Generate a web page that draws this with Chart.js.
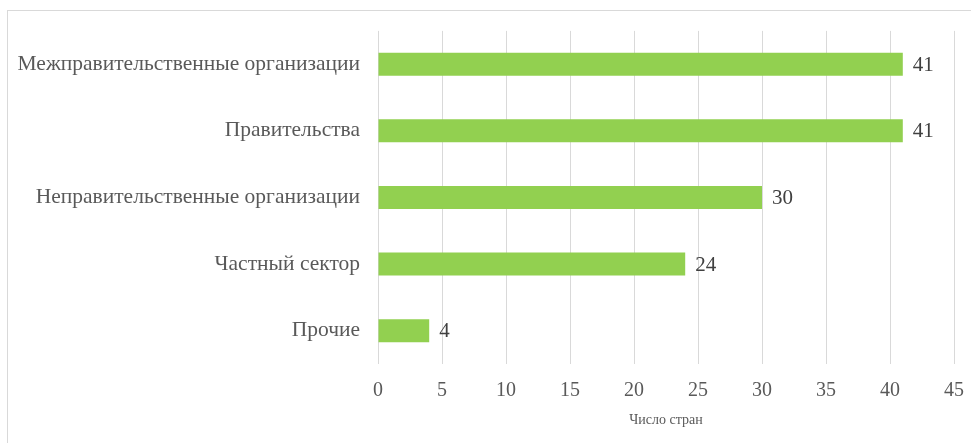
<!DOCTYPE html>
<html><head><meta charset="utf-8">
<script src="https://cdn.jsdelivr.net/npm/chart.js@4"></script>
<style>
html,body{margin:0;padding:0;background:#fff;overflow:hidden}
#frame{position:absolute;left:7px;top:10px;width:990px;height:460px;border:1px solid #d9d9d9;box-sizing:border-box}
#wrap{position:absolute;left:0;top:0;width:971px;height:443px}
</style></head>
<body>
<div id="frame"></div>
<div id="wrap"><canvas id="c" width="971" height="443"></canvas></div>
<script>
const categories = ["Межправительственные организации","Правительства","Неправительственные организации","Частный сектор","Прочие"];
const values = [41, 41, 30, 24, 4];
const xTicks = [0,5,10,15,20,25,30,35,40,45];
const xTitle = "Число стран";

const FONT = "'Liberation Serif','Times New Roman',serif";
const TEXT = "#595959";

const valueLabels = {
  id: 'valueLabels',
  afterDatasetsDraw(chart) {
    const ctx = chart.ctx;
    const meta = chart.getDatasetMeta(0);
    ctx.save();
    ctx.font = "21px " + FONT;
    ctx.fillStyle = "#404040";
    ctx.textAlign = "left";
    ctx.textBaseline = "middle";
    meta.data.forEach((bar, i) => {
      ctx.fillText(String(values[i]), bar.x + 10, bar.y + 1);
    });
    ctx.restore();
  }
};

new Chart(document.getElementById('c'), {
  type: 'bar',
  data: {
    labels: categories,
    datasets: [{ data: values, backgroundColor: '#92D050', borderWidth: 0,
      categoryPercentage: 1, barPercentage: 0.345 }]
  },
  options: {
    indexAxis: 'y',
    responsive: false,
    animation: false,
    events: [],
    layout: { padding: { top: 29, right: 17, left: 0, bottom: 0 } },
    plugins: { legend: { display: false }, tooltip: { enabled: false } },
    scales: {
      x: {
        min: 0, max: 45,
        afterBuildTicks(scale) { scale.ticks = xTicks.map(v => ({ value: v })); },
        afterFit(scale) { scale.height = 79; scale.paddingRight = 0; scale.paddingLeft = 0; },
        grid: { color: '#d9d9d9', lineWidth: 1, drawTicks: false },
        border: { display: false },
        ticks: { color: TEXT, font: { family: FONT, size: 20 }, padding: 15 },
        title: { display: true, text: xTitle, color: TEXT, font: { family: FONT, size: 14 }, padding: { top: 4, bottom: 14 } }
      },
      y: {
        afterFit(scale) { scale.width = 378; },
        grid: { display: false, drawTicks: false },
        border: { display: false },
        ticks: { color: TEXT, font: { family: FONT, size: 21.5 }, padding: 18 }
      }
    }
  },
  plugins: [valueLabels]
});
</script>
</body></html>
